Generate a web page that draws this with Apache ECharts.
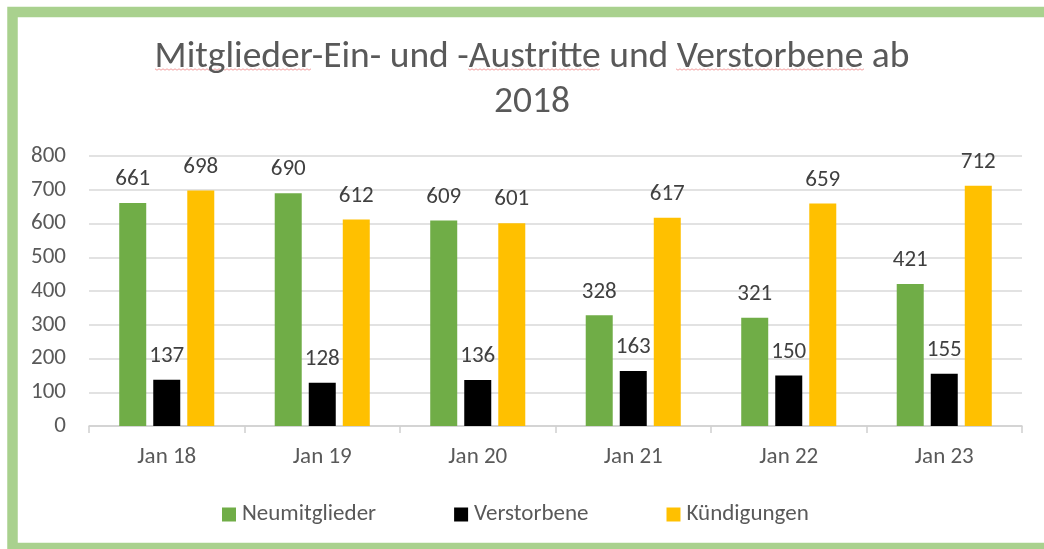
<!DOCTYPE html>
<html>
<head>
<meta charset="utf-8">
<script src="https://cdn.jsdelivr.net/npm/echarts@6/dist/echarts.min.js"></script>
<style>
  html, body { margin: 0; padding: 0; background: #fff; }
  #main { width: 1044px; height: 549px; }
</style>
</head>
<body>
<div id="main"></div>
<script>
var chart = echarts.init(document.getElementById('main'));

var categories = ['Jan 18', 'Jan 19', 'Jan 20', 'Jan 21', 'Jan 22', 'Jan 23'];
var neumitglieder = [661, 690, 609, 328, 321, 421];
var verstorbene = [137, 128, 136, 163, 150, 155];
var kuendigungen = [698, 612, 601, 617, 659, 712];

var font = 'Calibri, Carlito, "Open Sans", "Noto Sans", sans-serif';

function barSeries(name, data, color) {
    return {
        name: name,
        type: 'bar',
        data: data,
        barWidth: 27,
        barGap: '26%',
        itemStyle: { color: color },
        label: {
            show: true,
            position: 'top',
            distance: 12,
            color: '#404040',
            fontSize: 23,
            fontFamily: font
        }
    };
}

// rote Wellenlinien (Rechtschreibprüfung) unter einzelnen Titelwörtern
function squiggle(x0, x1, y) {
    var pts = [];
    for (var x = x0, i = 0; x <= x1; x += 2, i++) {
        pts.push([x, y + (i % 2 ? 1.2 : -0.2)]);
    }
    return {
        type: 'polyline',
        shape: { points: pts },
        style: { stroke: '#f3a0a0', lineWidth: 1, fill: null },
        silent: true
    };
}

var option = {
    backgroundColor: '#fff',
    animation: false,
    title: {
        text: 'Mitglieder-Ein- und -Austritte und Verstorbene ab\n2018',
        left: 527,
        top: 30,
        textAlign: 'center',
        textStyle: {
            color: '#595959',
            fontSize: 37.5,
            fontWeight: 'normal',
            lineHeight: 45,
            fontFamily: font
        }
    },
    legend: {
        left: 217,
        top: 498,
        itemWidth: 14,
        itemHeight: 14,
        itemGap: 78,
        icon: 'rect',
        textStyle: { color: '#595959', fontSize: 23, fontFamily: font, padding: [0, 0, 0, 1] },
        data: ['Neumitglieder', 'Verstorbene', 'Kündigungen']
    },
    grid: {
        left: 89,
        right: 22,
        top: 156,
        bottom: 123
    },
    xAxis: {
        type: 'category',
        data: categories,
        axisLine: { lineStyle: { color: '#d0d0d0', width: 1.5 } },
        axisTick: { show: true, length: 7, lineStyle: { color: '#d0d0d0', width: 1.5 } },
        axisLabel: { color: '#595959', fontSize: 23, margin: 20, fontFamily: font }
    },
    yAxis: {
        type: 'value',
        min: 0,
        max: 800,
        interval: 100,
        axisLine: { show: false },
        axisTick: { show: false },
        axisLabel: { color: '#595959', fontSize: 23, margin: 23, fontFamily: font },
        splitLine: { lineStyle: { color: '#d9d9d9', width: 1.5 } }
    },
    graphic: [
        {
            type: 'rect',
            shape: { x: 12.5, y: 12, width: 1100, height: 536 },
            style: { fill: null, stroke: '#a9d18e', lineWidth: 10.5 },
            silent: true
        },
        squiggle(155, 311, 69),
        squiggle(468, 600, 69),
        squiggle(676, 864, 69)
    ],
    series: [
        barSeries('Neumitglieder', neumitglieder, '#70ad47'),
        barSeries('Verstorbene', verstorbene, '#000000'),
        barSeries('Kündigungen', kuendigungen, '#ffc000')
    ]
};

chart.setOption(option);
</script>
</body>
</html>
